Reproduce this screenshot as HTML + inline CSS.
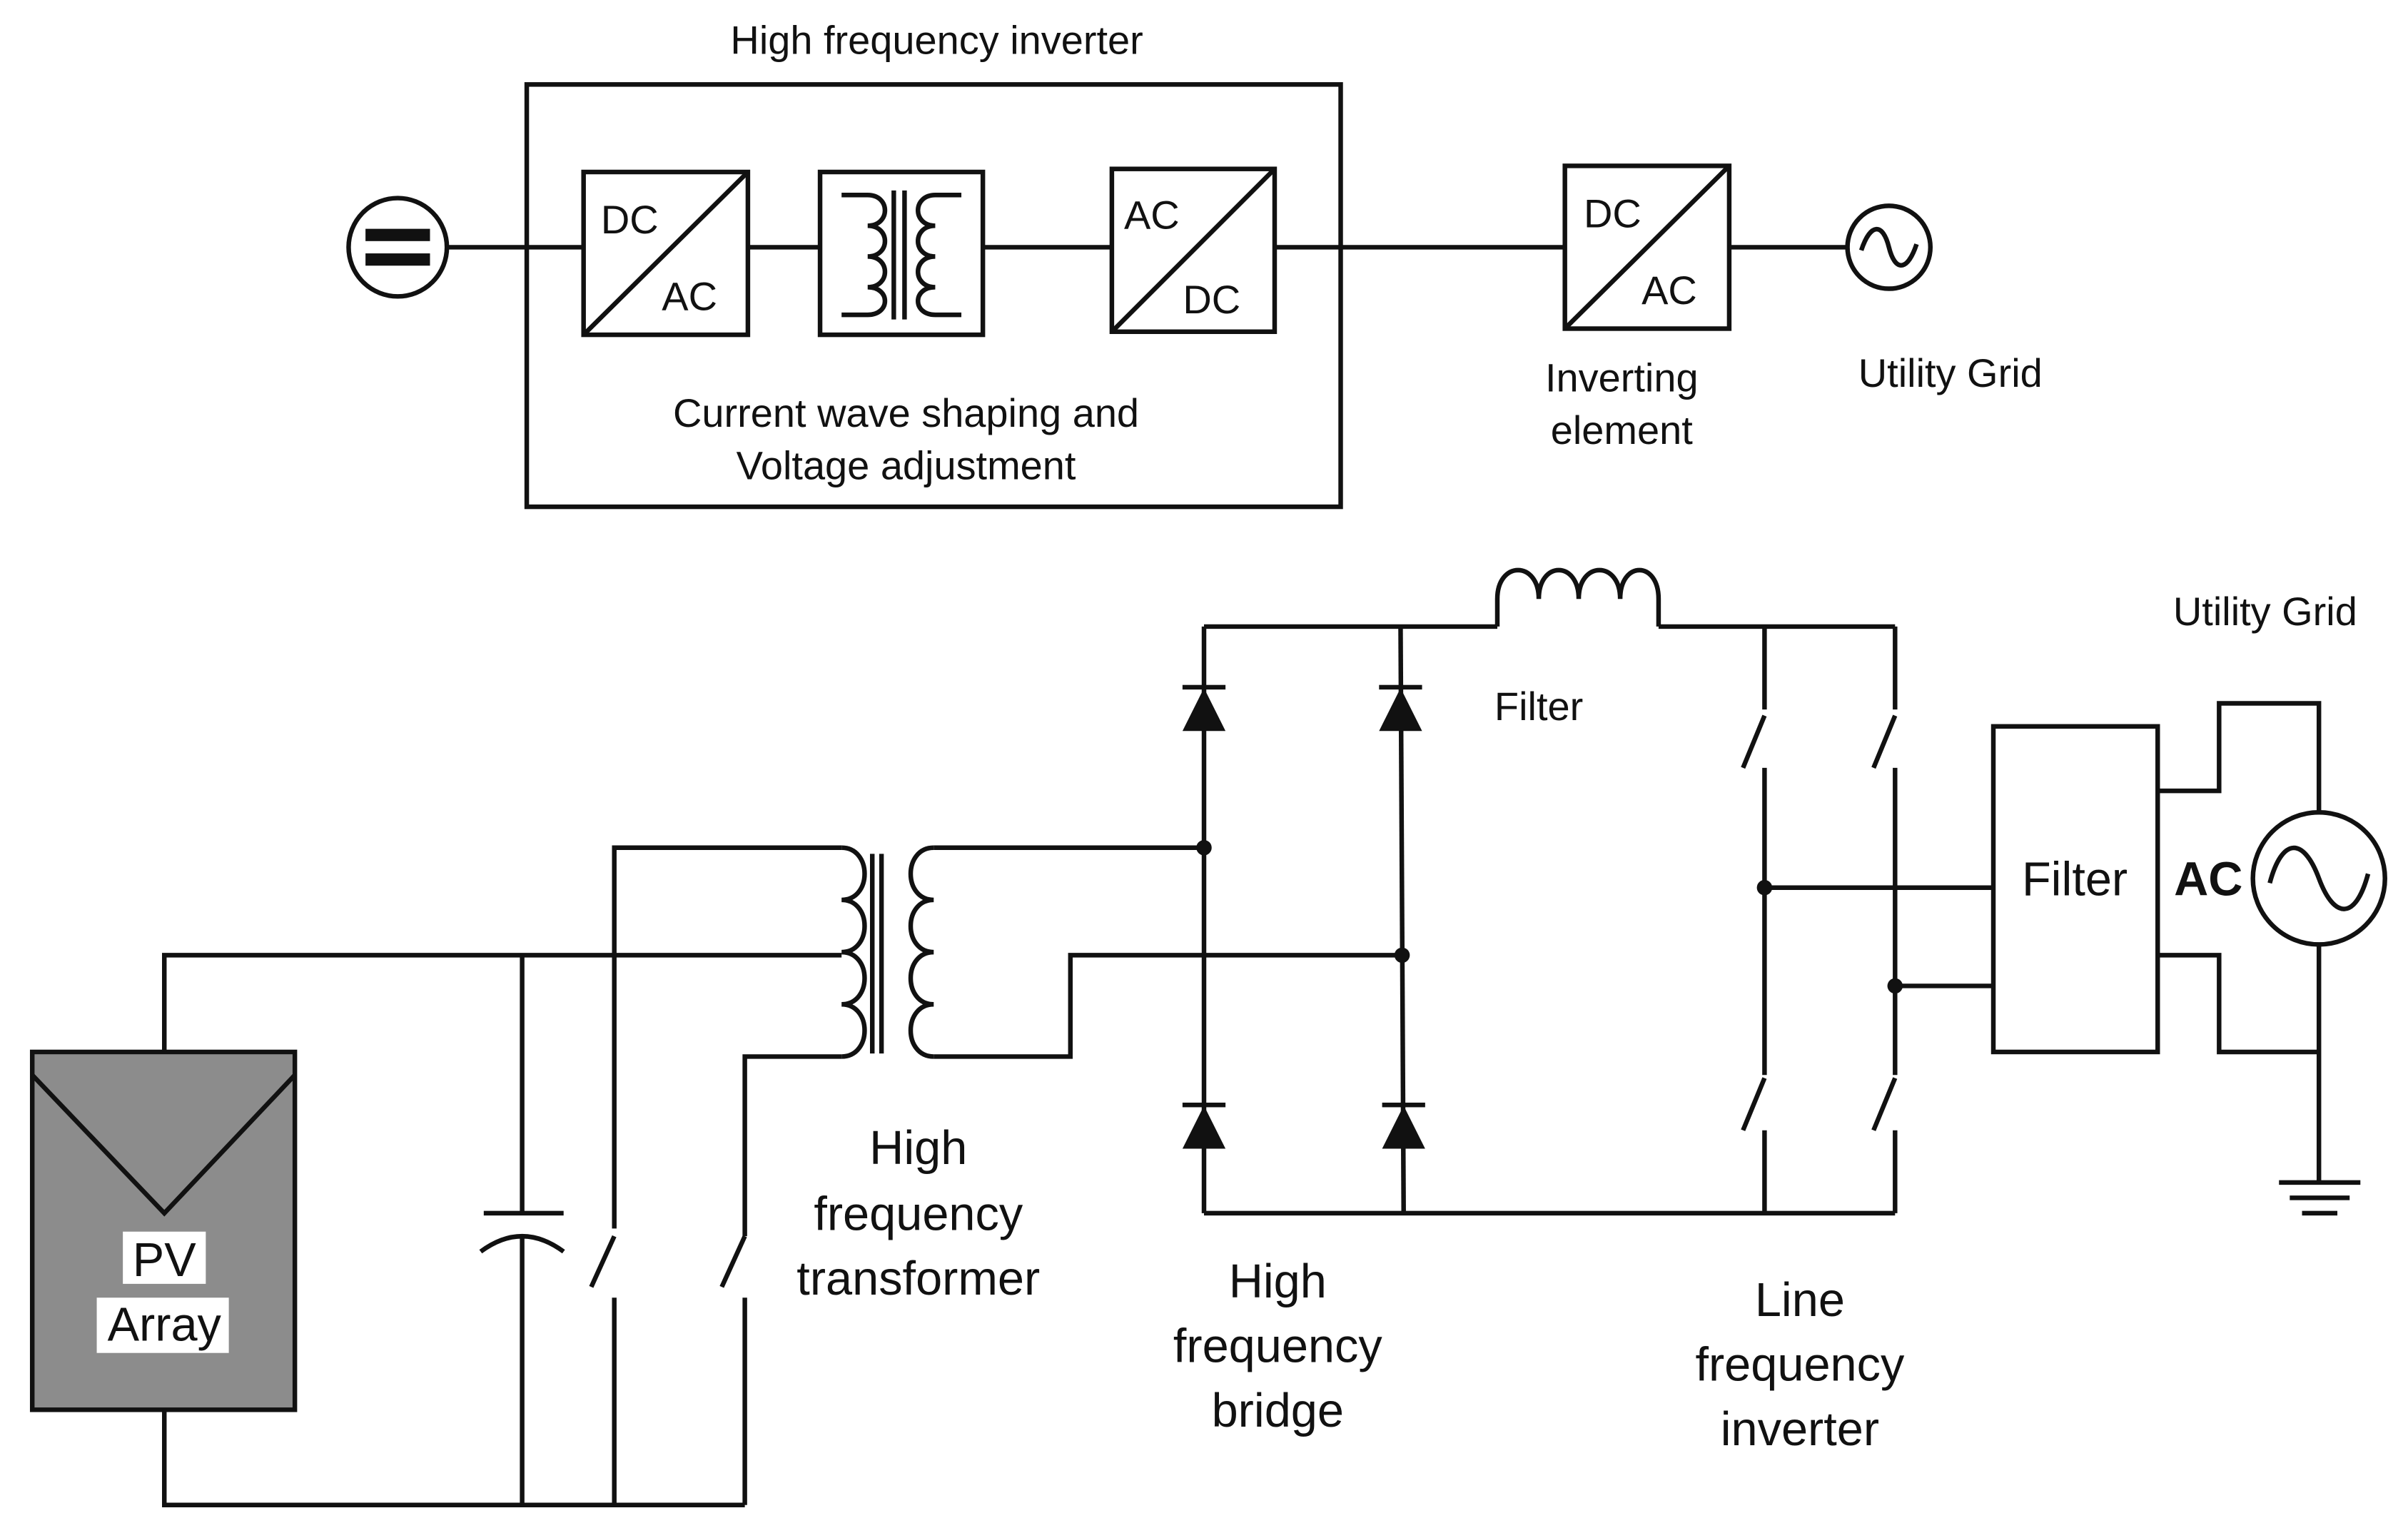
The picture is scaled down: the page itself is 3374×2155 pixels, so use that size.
<!DOCTYPE html>
<html><head><meta charset="utf-8"><style>
html,body{margin:0;padding:0;background:#fff;}
svg{display:block;}
text{font-family:"Liberation Sans",sans-serif;fill:#111;}
</style></head><body>
<svg width="3374" height="2155" viewBox="0 0 1568 1001.5" preserveAspectRatio="none" xmlns="http://www.w3.org/2000/svg">
<g stroke="#111" stroke-width="3" fill="none">
<!-- top -->
<rect x="343" y="55" width="530" height="275"/>
<circle cx="259" cy="161" r="32"/>
<line x1="291" y1="161" x2="380" y2="161"/>
<rect x="380" y="112" width="107" height="106"/>
<line x1="380" y1="218" x2="487" y2="112"/>
<line x1="487" y1="161" x2="534" y2="161"/>
<rect x="534" y="112" width="106" height="106"/>
<line x1="640" y1="161" x2="724" y2="161"/>
<rect x="724" y="110" width="106" height="106"/>
<line x1="724" y1="216" x2="830" y2="110"/>
<line x1="830" y1="161" x2="1019" y2="161"/>
<rect x="1019" y="108" width="107" height="106"/>
<line x1="1019" y1="214" x2="1126" y2="108"/>
<line x1="1126" y1="161" x2="1203" y2="161"/>
<circle cx="1230" cy="161" r="27"/>
<path d="M1212 163 C1218 145 1226 145 1230 161 C1234 177 1242 177 1248 159"/>
<!-- top transformer -->
<path d="M548 127 H565 C580 127 580 147 565 147 C580 147 580 167 565 167 C580 167 580 187 565 187 C580 187 580 205 565 205 H548"/>
<line x1="582" y1="124" x2="582" y2="208"/><line x1="589" y1="124" x2="589" y2="208"/>
<path d="M626 127 H609 C594 127 594 147 609 147 C594 147 594 167 609 167 C594 167 594 187 609 187 C594 187 594 205 609 205 H626"/>
<!-- PV -->
<rect x="21" y="685" width="171" height="233" fill="#8c8c8c"/>
<polyline points="21,700 107,790 192,700"/>
<polyline points="107,685 107,622 548,622"/>
<polyline points="107,918 107,980 485,980"/>
<line x1="340" y1="622" x2="340" y2="790"/>
<line x1="315" y1="790" x2="367" y2="790"/>
<path d="M313 815 Q340 795 367 815"/>
<line x1="340" y1="805" x2="340" y2="980"/>
<polyline points="548,552 400,552 400,800"/>
<line x1="385" y1="838" x2="400" y2="805"/>
<line x1="400" y1="845" x2="400" y2="980"/>
<polyline points="548,688 485,688 485,805"/>
<line x1="470" y1="838" x2="485" y2="805"/>
<line x1="485" y1="845" x2="485" y2="980"/>
<!-- HF transformer -->
<path d="M548 552 C568 552 568 586 548 586 C568 586 568 620 548 620 C568 620 568 654 548 654 C568 654 568 688 548 688"/>
<line x1="568" y1="556" x2="568" y2="686"/><line x1="574" y1="556" x2="574" y2="686"/>
<path d="M608 552 C588 552 588 586 608 586 C588 586 588 620 608 620 C588 620 588 654 608 654 C588 654 588 688 608 688"/>
<line x1="608" y1="552" x2="784" y2="552"/>
<polyline points="608,688 697,688 697,622 913,622"/>
<!-- bridge -->
<line x1="784" y1="408" x2="784" y2="790"/>
<line x1="912" y1="408" x2="914" y2="790"/>
<line x1="784" y1="408" x2="975" y2="408"/>
<path d="M975 408 V390 C975 365 1002 365 1002 390 C1002 365 1028 365 1028 390 C1028 365 1055 365 1055 390 C1055 365 1080 365 1080 390 V408"/>
<line x1="1080" y1="408" x2="1234" y2="408"/>
<line x1="784" y1="790" x2="1234" y2="790"/>
<!-- LF inverter -->
<line x1="1149" y1="408" x2="1149" y2="462"/>
<line x1="1135" y1="500" x2="1149" y2="466"/>
<line x1="1149" y1="500" x2="1149" y2="700"/>
<line x1="1135" y1="736" x2="1149" y2="702"/>
<line x1="1149" y1="736" x2="1149" y2="790"/>
<line x1="1234" y1="408" x2="1234" y2="462"/>
<line x1="1220" y1="500" x2="1234" y2="466"/>
<line x1="1234" y1="500" x2="1234" y2="700"/>
<line x1="1220" y1="736" x2="1234" y2="702"/>
<line x1="1234" y1="736" x2="1234" y2="790"/>
<line x1="1149" y1="578" x2="1298" y2="578"/>
<line x1="1234" y1="642" x2="1298" y2="642"/>
<rect x="1298" y="473" width="107" height="212"/>
<polyline points="1405,515 1445,515 1445,458 1510,458 1510,529"/>
<polyline points="1405,622 1445,622 1445,685 1510,685"/>
<line x1="1510" y1="615" x2="1510" y2="770"/>
<circle cx="1510" cy="572" r="43"/>
<path d="M1478 575 C1486 545 1500 545 1510 572 C1520 599 1534 599 1542 569"/>
<line x1="1484" y1="770" x2="1537" y2="770"/>
<line x1="1491" y1="780" x2="1530" y2="780"/>
<line x1="1499" y1="790" x2="1522" y2="790"/>
</g>
<g fill="#111">
<rect x="238" y="149" width="42" height="8"/><rect x="238" y="165" width="42" height="8"/>
<polygon points="770,476 798,476 784,448"/><rect x="770" y="446" width="28" height="3"/>
<polygon points="898,476 926,476 912,448"/><rect x="898" y="446" width="28" height="3"/>
<polygon points="770,748 798,748 784,720"/><rect x="770" y="718" width="28" height="3"/>
<polygon points="900,748 928,748 914,720"/><rect x="900" y="718" width="28" height="3"/>
<circle cx="784" cy="552" r="5"/><circle cx="913" cy="622" r="5"/>
<circle cx="1149" cy="578" r="5"/><circle cx="1234" cy="642" r="5"/>
</g>
<rect x="80" y="802" width="54" height="34" fill="#fff"/>
<rect x="63" y="845" width="86" height="36" fill="#fff"/>
<g font-size="26" text-anchor="middle">
<text x="610" y="35">High frequency inverter</text>
<text x="410" y="152">DC</text><text x="449" y="202">AC</text>
<text x="750" y="149">AC</text><text x="789" y="204">DC</text>
<text x="1050" y="148">DC</text><text x="1087" y="198">AC</text>
<text x="590" y="278">Current wave shaping and</text>
<text x="590" y="312">Voltage adjustment</text>
<text x="1056" y="255">Inverting</text><text x="1056" y="289">element</text>
<text x="1270" y="252">Utility Grid</text>
<text x="1475" y="407">Utility Grid</text>
<text x="1002" y="469">Filter</text>
</g>
<g font-size="31" text-anchor="middle">
<text x="107" y="831">PV</text><text x="107" y="873">Array</text>
<text x="598" y="758">High</text><text x="598" y="801">frequency</text><text x="598" y="843">transformer</text>
<text x="832" y="845">High</text><text x="832" y="887">frequency</text><text x="832" y="929">bridge</text>
<text x="1172" y="857">Line</text><text x="1172" y="899">frequency</text><text x="1172" y="941">inverter</text>
<text x="1351" y="583">Filter</text>
<text x="1438" y="583" font-weight="bold">AC</text>
</g>
</svg>
</body></html>
